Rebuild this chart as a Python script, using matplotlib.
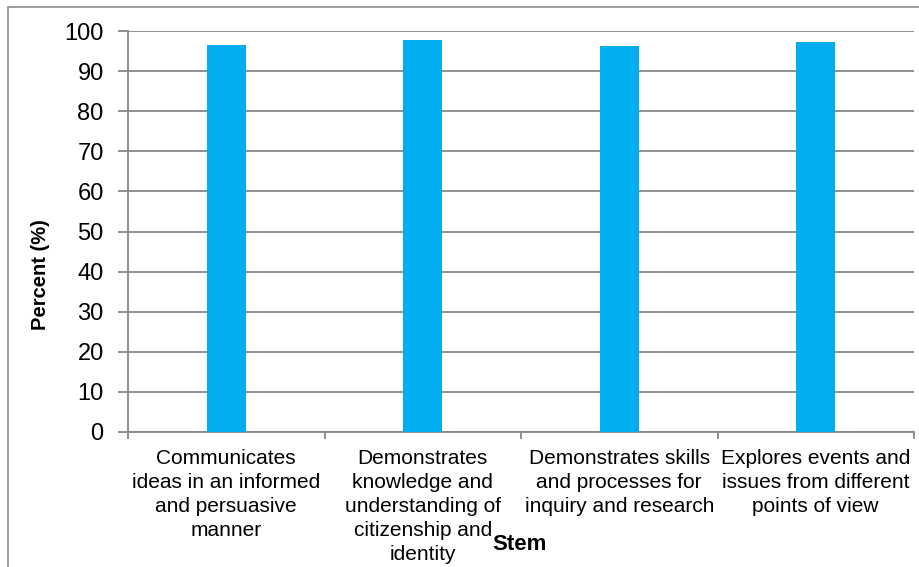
import numpy as np
import matplotlib
matplotlib.use("Agg")
import matplotlib.pyplot as plt
from matplotlib.patches import Rectangle

plt.rcParams["font.family"] = ["Liberation Sans", "DejaVu Sans"]

categories = [
    "Communicates\nideas in an informed\nand persuasive\nmanner",
    "Demonstrates\nknowledge and\nunderstanding of\ncitizenship and\nidentity",
    "Demonstrates skills\nand processes for\ninquiry and research",
    "Explores events and\nissues from different\npoints of view",
]
percent = [96.5, 97.8, 96.3, 97.3]
y_ticks = list(range(0, 101, 10))

GRID = "#878787"
BAR = "#00AEEF"

fig = plt.figure(figsize=(9.19, 5.67), dpi=100)
ax = fig.add_axes([128 / 919, 1 - 432 / 567, 786 / 919, 401 / 567])

x = np.arange(len(categories))
ax.bar(x, percent, width=0.2, color=BAR, zorder=3)

ax.set_xlim(-0.5, len(categories) - 0.5)
ax.set_ylim(0, 100)
ax.set_yticks(y_ticks)
ax.tick_params(axis="y", labelsize=17, length=7, width=1.3, color=GRID,
               direction="out", pad=10.5)
ax.yaxis.grid(True, color=GRID, linewidth=1.3, zorder=0)

ax.set_xticks(np.arange(len(categories) + 1) - 0.5)
ax.set_xticklabels([])
ax.tick_params(axis="x", length=5, width=1.3, color=GRID, direction="out")
for i, lab in enumerate(categories):
    ax.text(i, -4.3, lab, ha="center", va="top", fontsize=15,
            linespacing=1.33, transform=ax.transData)

for side in ["top", "right"]:
    ax.spines[side].set_visible(False)
for side in ["left", "bottom"]:
    ax.spines[side].set_color(GRID)
    ax.spines[side].set_linewidth(1.3)

fig.text(40 / 919, 1 - 275 / 567, "Percent (%)", rotation=90, ha="center",
         va="center", fontsize=14.5, fontweight="bold")
fig.text(520 / 919, 1 - 544 / 567, "Stem", ha="center", va="center",
         fontsize=16, fontweight="bold")

fig.patches.append(Rectangle((8 / 919, -0.05), 1.0, 1 - 7 / 567 + 0.05,
                             transform=fig.transFigure, fill=False,
                             edgecolor="#8c8c8c", linewidth=1.2))

fig.savefig("out.png", dpi=100)
